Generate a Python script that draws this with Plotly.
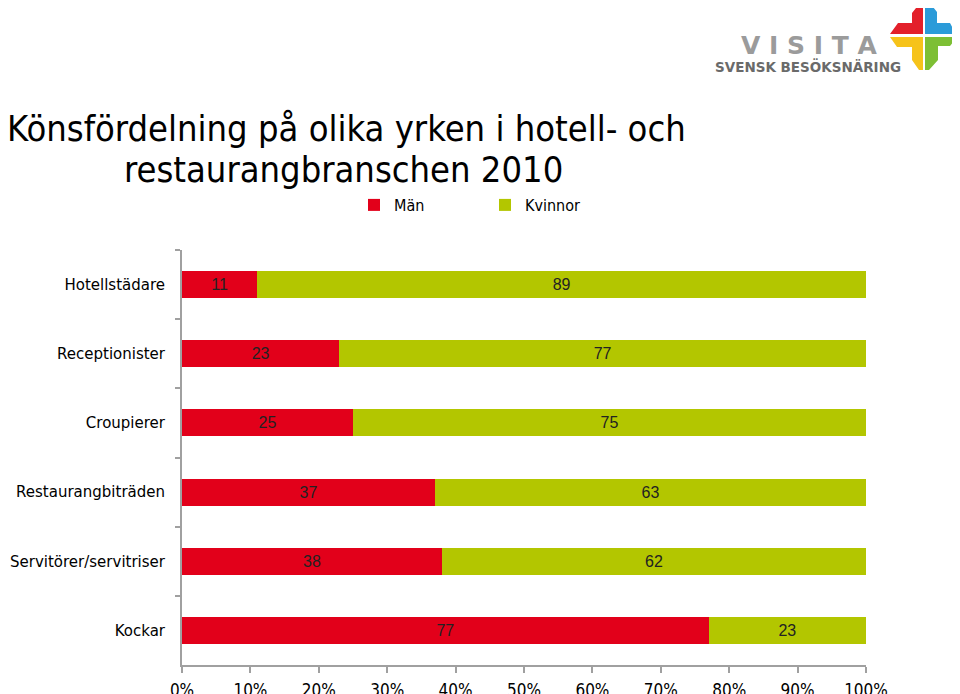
import plotly.graph_objects as go

categories = ["Hotellstädare", "Receptionister", "Croupierer", "Restaurangbiträden",
              "Servitörer/servitriser", "Kockar"]
man = [11, 23, 25, 37, 38, 77]
kvinnor = [89, 77, 75, 63, 62, 23]
x_ticks = [0, 10, 20, 30, 40, 50, 60, 70, 80, 90, 100]
x_tick_labels = [f"{v}%" for v in x_ticks]

RED = "#E2001A"
GREEN = "#B3C600"
AXIS = "#A0A0A0"
COND = "DejaVu Sans Condensed, Liberation Sans Narrow, DejaVu Sans, sans-serif"

# page has an 8px body margin: figure is placed at (8, 8)
OFF = 8
W, H = 960 - OFF, 694 - OFF
# plot area in reference (window) pixels
L, R, T, B = 182, 866, 250, 665


def px(x):
    return (x - L) / (R - L)


def py(y):
    return (B - y) / (B - T)


label_font = dict(family="Liberation Sans, Arial, sans-serif", size=16, color="#222222")

fig = go.Figure()
fig.add_trace(go.Bar(
    y=categories, x=man, name="Män", orientation="h",
    marker=dict(color=RED, line=dict(width=0)),
    text=[str(v) for v in man], textposition="inside", insidetextanchor="middle",
    textfont=label_font, hoverinfo="skip",
))
fig.add_trace(go.Bar(
    y=categories, x=kvinnor, name="Kvinnor", orientation="h",
    marker=dict(color=GREEN, line=dict(width=0)),
    text=[str(v) for v in kvinnor], textposition="inside", insidetextanchor="middle",
    textfont=label_font, hoverinfo="skip",
))

# Decorative logo cross
def poly(points):
    return "M" + " L".join(f"{px(x)},{py(y)}" for x, y in points) + " Z"

logo_pieces = [
    ([(923, 2), (923, 34), (890, 34), (898, 23), (912, 23), (912, 13), (920, 3)], "#E3202A"),
    ([(925, 2), (929, 2), (937, 12), (937, 23), (950, 23), (956, 34), (925, 34)], "#2B9BD9"),
    ([(890, 37), (923, 37), (923, 70), (919, 70), (912, 60), (912, 47), (897, 47)], "#F6C31A"),
    ([(925, 37), (957, 37), (950, 46), (938, 46), (938, 60), (929, 70), (925, 70)], "#7DBF34"),
]
shapes = [dict(type="path", xref="paper", yref="paper", path=poly(p),
               fillcolor=c, line=dict(width=0)) for p, c in logo_pieces]

annotations = [
    dict(text="V I S I T A", x=px(809), y=py(45), xref="paper", yref="paper",
         xanchor="center", yanchor="middle", showarrow=False,
         font=dict(family="DejaVu Sans", size=25, color="#9B9B9B", weight="bold")),
    dict(text="SVENSK BESÖKSNÄRING", x=px(808), y=py(66), xref="paper", yref="paper",
         xanchor="center", yanchor="middle", showarrow=False,
         font=dict(family="DejaVu Sans", size=13.5, color="#6A6A6A", weight="bold")),
    dict(text="Könsfördelning på olika yrken i hotell- och",
         x=px(346), y=py(128), xref="paper", yref="paper",
         xanchor="center", yanchor="middle", showarrow=False,
         font=dict(family=COND, size=36, color="#000000")),
    dict(text="restaurangbranschen 2010",
         x=px(343), y=py(169), xref="paper", yref="paper",
         xanchor="center", yanchor="middle", showarrow=False,
         font=dict(family=COND, size=36, color="#000000")),
]

fig.update_layout(
    width=W, height=H,
    margin=dict(l=L - OFF, r=W - (R - OFF), t=T - OFF, b=H - (B - OFF), autoexpand=False),
    paper_bgcolor="white", plot_bgcolor="white",
    barmode="stack", bargap=0.61,
    showlegend=True,
    legend=dict(orientation="h", x=px(354), y=py(205), xanchor="left", yanchor="middle",
                xref="paper", yref="paper",
                entrywidth=86, entrywidthmode="pixels",
                font=dict(family=COND, size=16, color="#000000"),
                traceorder="normal", bgcolor="rgba(0,0,0,0)"),
    xaxis=dict(range=[0, 100], tickvals=x_ticks, ticktext=x_tick_labels,
               showgrid=False, zeroline=False, showline=True, linecolor=AXIS, linewidth=2,
               ticks="outside", ticklen=6, tickcolor=AXIS, tickwidth=2,
               ticklabelstandoff=3,
               tickfont=dict(family=COND, size=17, color="#000000"), automargin=False),
    yaxis=dict(type="category", categoryarray=categories, categoryorder="array",
               autorange="reversed", showgrid=False, zeroline=False,
               showline=True, linecolor=AXIS, linewidth=2,
               ticks="outside", ticklen=5, tickcolor=AXIS, tickwidth=2,
               tickson="boundaries", ticklabelstandoff=12,
               tickfont=dict(family="DejaVu Sans", size=15, color="#000000"),
               automargin=False),
    shapes=shapes,
    annotations=annotations,
    font=dict(family=COND),
)

fig.write_html("out.html")
